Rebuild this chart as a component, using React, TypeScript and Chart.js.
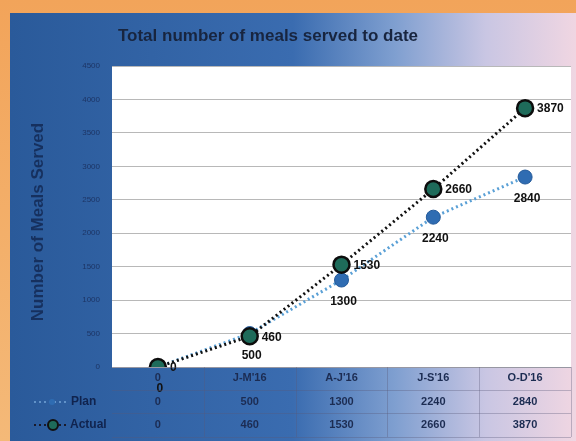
import React, { useEffect, useRef } from "react";
import { Chart, registerables } from "chart.js";

Chart.register(...registerables);

const categories = ["0", "J-M'16", "A-J'16", "J-S'16", "O-D'16"];
const planValues = [0, 500, 1300, 2240, 2840];
const actualValues = [0, 460, 1530, 2660, 3870];
const yMax = 4500;
const yStep = 500;
const chartTitle = "Total number of meals served to date";
const yAxisTitle = "Number of Meals Served";
const seriesNames = ["Plan", "Actual"];

const W = 576;
const H = 441;
const FONT = "'Liberation Sans', Arial, sans-serif";

const decorPlugin = {
  id: "decor",
  beforeDraw(chart: any) {
    const { ctx, chartArea: ca } = chart;
    ctx.save();
    const og = ctx.createLinearGradient(0, 0, 0, H);
    og.addColorStop(0, "#f2a45a");
    og.addColorStop(1, "#f4b978");
    ctx.fillStyle = og;
    ctx.fillRect(0, 0, W, H);
    const pg = ctx.createLinearGradient(10, 0, W, 0);
    pg.addColorStop(0, "#2a5a9a");
    pg.addColorStop(0.5, "#3a6cb0");
    pg.addColorStop(0.68, "#7f9fd0");
    pg.addColorStop(0.84, "#c9c6e3");
    pg.addColorStop(1, "#f0d6e2");
    ctx.fillStyle = pg;
    ctx.fillRect(10, 13, W - 10, H - 13);
    ctx.fillStyle = "#ffffff";
    ctx.fillRect(ca.left, ca.top, ca.right - ca.left, ca.bottom - ca.top);
    ctx.restore();
  },
  afterDraw(chart: any) {
    const { ctx, chartArea: ca, scales } = chart;
    const x = scales.x;
    const y = scales.y;
    ctx.save();
    // title
    ctx.fillStyle = "#18253f";
    ctx.font = "bold 17px " + FONT;
    ctx.textAlign = "center";
    ctx.textBaseline = "middle";
    ctx.fillText(chartTitle, 268, 36);
    // y ticks
    ctx.fillStyle = "#1d3565";
    ctx.font = "8px " + FONT;
    ctx.textAlign = "right";
    for (let v = 0; v <= yMax; v += yStep) {
      ctx.fillText(String(v), 100, y.getPixelForValue(v));
    }
    // y title
    ctx.save();
    ctx.translate(38, 222);
    ctx.rotate(-Math.PI / 2);
    ctx.textAlign = "center";
    ctx.fillStyle = "#16305e";
    ctx.font = "bold 17px " + FONT;
    ctx.fillText(yAxisTitle, 0, 0);
    ctx.restore();

    // table
    const rowY = [378, 402, 425];
    const lines = [ca.bottom, 390, 413, 437];
    ctx.strokeStyle = "rgba(90,90,120,0.35)";
    ctx.lineWidth = 1;
    lines.forEach((ly) => {
      ctx.beginPath();
      ctx.moveTo(112, Math.round(ly) + 0.5);
      ctx.lineTo(ca.right, Math.round(ly) + 0.5);
      ctx.stroke();
    });
    const colW = (ca.right - ca.left) / categories.length;
    for (let i = 1; i <= categories.length; i++) {
      const lx = Math.round(ca.left + i * colW) + 0.5;
      ctx.beginPath();
      ctx.moveTo(lx, ca.bottom);
      ctx.lineTo(lx, 437);
      ctx.stroke();
    }
    ctx.fillStyle = "#1c2c52";
    ctx.font = "bold 11px " + FONT;
    ctx.textAlign = "center";
    categories.forEach((c, i) => {
      const cx = x.getPixelForValue(i);
      ctx.fillText(c, cx, rowY[0]);
      ctx.fillText(String(planValues[i]), cx, rowY[1]);
      ctx.fillText(String(actualValues[i]), cx, rowY[2]);
    });
    // row headers
    ctx.fillStyle = "#10234e";
    ctx.font = "bold 12px " + FONT;
    ctx.textAlign = "left";
    ctx.fillText(seriesNames[0], 71, rowY[1]);
    ctx.fillText(seriesNames[1], 70, rowY[2]);
    // legend keys
    ctx.strokeStyle = "rgba(120,170,220,0.7)";
    ctx.lineWidth = 2;
    ctx.setLineDash([2, 3]);
    ctx.beginPath();
    ctx.moveTo(34, rowY[1]);
    ctx.lineTo(66, rowY[1]);
    ctx.stroke();
    ctx.strokeStyle = "#1a1a2a";
    ctx.beginPath();
    ctx.moveTo(34, rowY[2]);
    ctx.lineTo(66, rowY[2]);
    ctx.stroke();
    ctx.setLineDash([]);
    ctx.fillStyle = "#2f6cb2";
    ctx.beginPath();
    ctx.arc(52, rowY[1], 3, 0, Math.PI * 2);
    ctx.fill();
    ctx.fillStyle = "#1e6b5a";
    ctx.strokeStyle = "#111";
    ctx.lineWidth = 2;
    ctx.beginPath();
    ctx.arc(53, rowY[2], 5, 0, Math.PI * 2);
    ctx.fill();
    ctx.stroke();
    ctx.restore();
  },
  afterDatasetsDraw(chart: any) {
    const { ctx } = chart;
    ctx.save();
    ctx.fillStyle = "#111";
    ctx.font = "bold 12px " + FONT;
    ctx.textBaseline = "middle";
    const planMeta = chart.getDatasetMeta(0);
    const actMeta = chart.getDatasetMeta(1);
    ctx.textAlign = "center";
    planMeta.data.forEach((p: any, i: number) => {
      ctx.fillText(String(planValues[i]), p.x + 2, p.y + 22);
    });
    ctx.textAlign = "left";
    actMeta.data.forEach((p: any, i: number) => {
      ctx.fillText(String(actualValues[i]), p.x + 12, p.y + 1);
    });
    ctx.restore();
  },
};

export default function App() {
  const ref = useRef<HTMLCanvasElement>(null);
  useEffect(() => {
    const canvas = ref.current!;
    const chart = new Chart(canvas, {
      type: "line",
      data: {
        labels: categories,
        datasets: [
          {
            label: seriesNames[0],
            data: planValues,
            borderColor: "#5aa0d6",
            borderWidth: 3,
            borderDash: [2, 3],
            pointRadius: 7,
            pointBackgroundColor: "#2f6cb2",
            pointBorderColor: "#245a9a",
            pointBorderWidth: 1,
            order: 1,
          },
          {
            label: seriesNames[1],
            data: actualValues,
            borderColor: "#111111",
            borderWidth: 3,
            borderDash: [2, 3],
            pointRadius: 8,
            pointBackgroundColor: "#1e6b5a",
            pointBorderColor: "#0d0d0d",
            pointBorderWidth: 2.5,
            order: 0,
          },
        ],
      },
      options: {
        animation: false,
        responsive: false,
        devicePixelRatio: 1,
        layout: { autoPadding: false, padding: { left: 112, right: 5, top: 66, bottom: 74 } },
        plugins: {
          legend: { display: false },
          title: { display: false },
          tooltip: { enabled: false },
        },
        scales: {
          x: {
            type: "category",
            offset: true,
            display: false,
          },
          y: {
            min: 0,
            max: yMax,
            ticks: { stepSize: yStep, display: false },
            grid: { color: "#b8b8b8", drawTicks: false, lineWidth: 1 },
            border: { display: false },
            afterFit(s: any) {
              s.width = 0;
            },
          },
        },
      },
      plugins: [decorPlugin],
    });
    return () => chart.destroy();
  }, []);
  return (
    <div style={{ position: "fixed", left: 0, top: 0, width: W, height: H }}>
      <canvas ref={ref} width={W} height={H} style={{ width: W, height: H, display: "block" }} />
    </div>
  );
}
